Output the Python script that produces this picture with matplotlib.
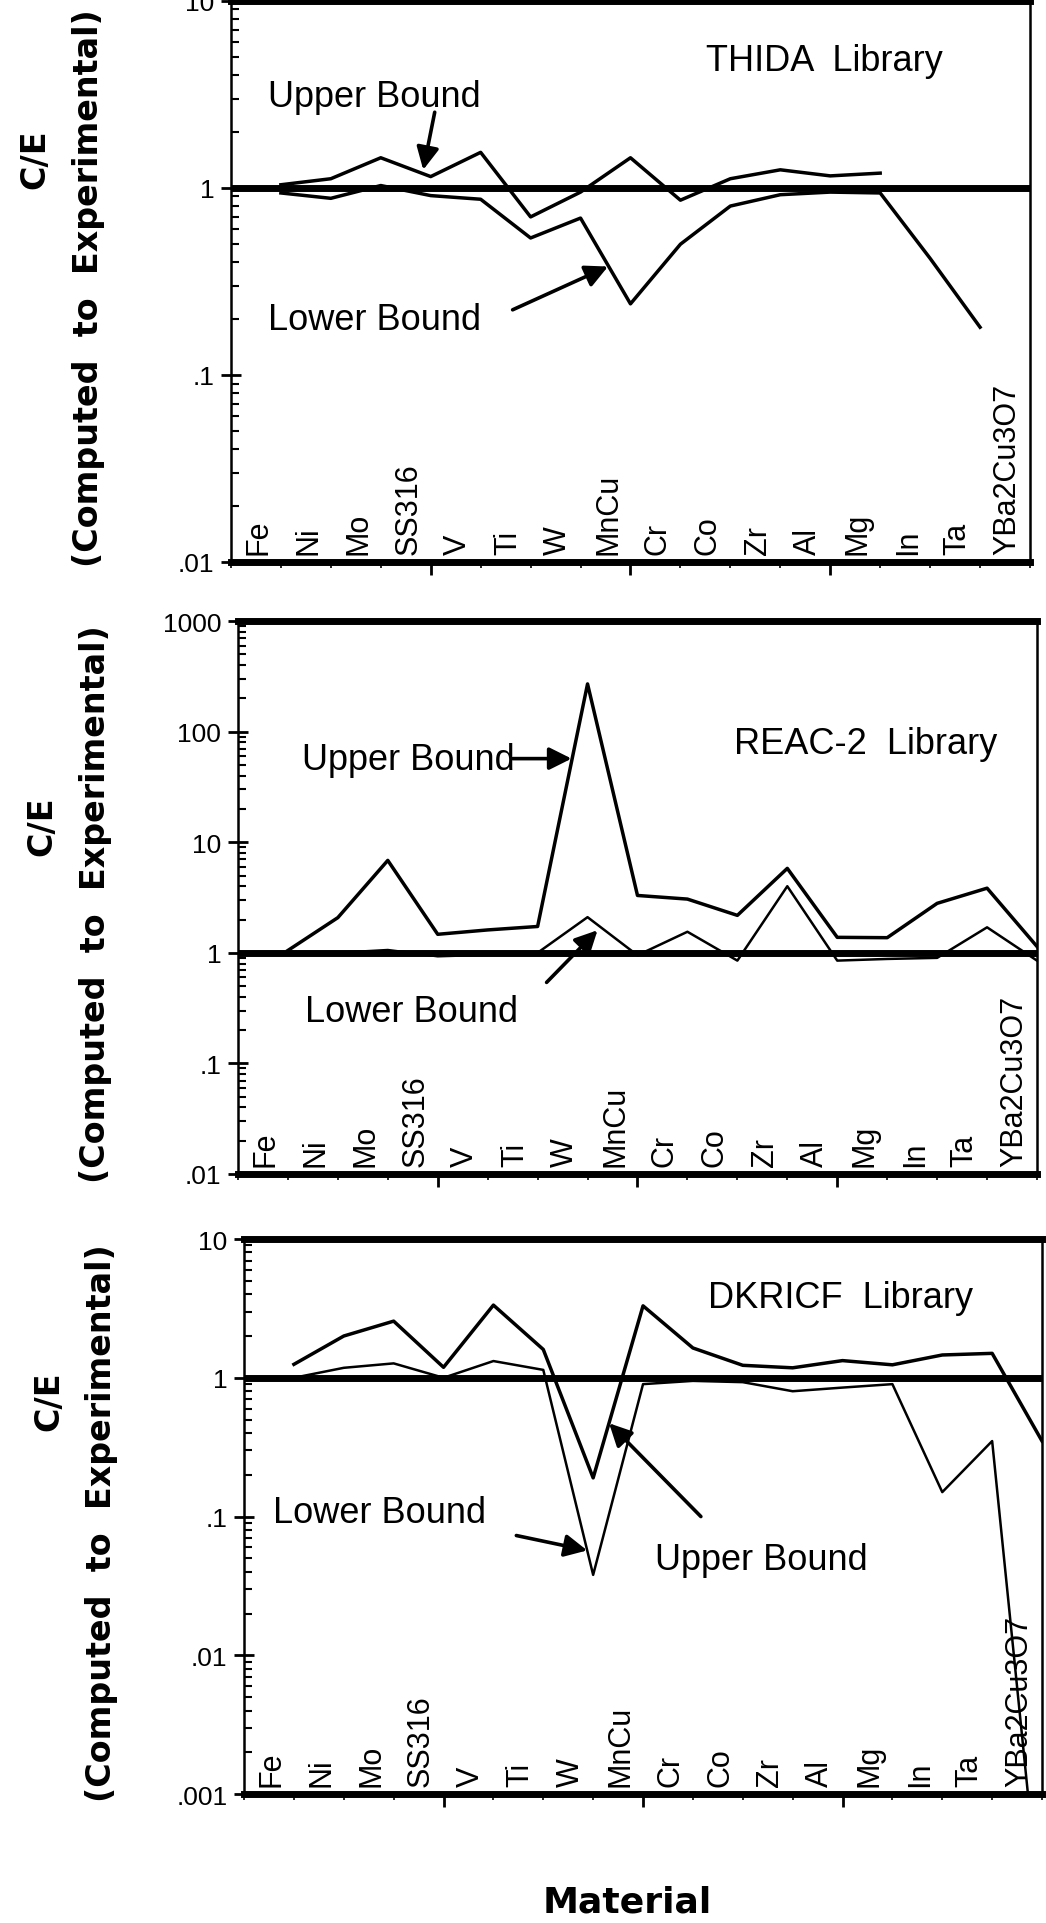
import numpy as np
import matplotlib
matplotlib.use("Agg")
import matplotlib.pyplot as plt
from matplotlib.ticker import FixedLocator, LogLocator, MultipleLocator, NullFormatter

plt.rcParams['font.family'] = ['Liberation Sans', 'DejaVu Sans']

# =============================================================================
# DATA  (C/E ratios)
# =============================================================================

materials = ["Fe", "Ni", "Mo", "SS316", "V", "Ti", "W", "MnCu", "Cr", "Co",
             "Zr", "Al", "Mg", "In", "Ta", "YBa2Cu3O7"]
x_pos = np.arange(1, len(materials) + 1)
nan = np.nan

thida_upper = [1.04, 1.12, 1.45, 1.15, 1.55, 0.70, 0.95, 1.45, 0.86, 1.12,
               1.25, 1.16, 1.20, nan, nan, nan]
thida_lower = [0.94, 0.88, 1.03, 0.91, 0.87, 0.54, 0.69, 0.24, 0.50, 0.80,
               0.92, 0.95, 0.94, 0.42, 0.18, nan]

reac_upper = [1.05, 2.08, 6.85, 1.47, 1.61, 1.73, 270, 3.3, 3.06, 2.18,
              5.8, 1.38, 1.37, 2.8, 3.84, 1.14]
reac_lower = [1.0, 1.0, 1.06, 0.93, 0.96, 1.0, 2.1, 0.95, 1.55, 0.85,
              4.0, 0.85, 0.88, 0.90, 1.7, 0.85]

dkricf_upper = [1.25, 2.0, 2.56, 1.19, 3.34, 1.6, 0.19, 3.3, 1.64, 1.23,
                1.18, 1.33, 1.24, 1.46, 1.5, 0.35]
dkricf_lower = [1.0, 1.18, 1.27, 1.0, 1.32, 1.14, 0.038, 0.9, 0.95, 0.93,
                0.80, 0.85, 0.90, 0.15, 0.35, 1e-4]

thida_ticks = [0.01, 0.1, 1, 10]
thida_ticklabels = [".01", ".1", "1", "10"]
reac_ticks = [0.01, 0.1, 1, 10, 100, 1000]
reac_ticklabels = [".01", ".1", "1", "10", "100", "1000"]
dkricf_ticks = [0.001, 0.01, 0.1, 1, 10]
dkricf_ticklabels = [".001", ".01", ".1", "1", "10"]

# =============================================================================
# FIGURE
# =============================================================================

fig = plt.figure(figsize=(10.46, 19.24), dpi=100)


def draw_panel(rect, upper, lower, ticks, ticklabels, library, lib_xy,
               ce_y, lw_lower):
    ax = fig.add_axes(rect)
    ax.set_yscale('log')
    ax.set_ylim(ticks[0], ticks[-1])
    ax.set_xlim(0, 16)

    ax.axhline(1, color='black', lw=5)
    ax.plot(x_pos, upper, color='black', lw=2.5)
    ax.plot(x_pos, lower, color='black', lw=lw_lower)

    ax.set_yticks(ticks)
    ax.set_yticklabels(ticklabels, fontsize=19)
    ax.yaxis.set_minor_locator(LogLocator(base=10, subs=np.arange(2, 10), numticks=20))
    ax.yaxis.set_minor_formatter(NullFormatter())
    ax.xaxis.set_major_locator(FixedLocator([4, 8, 12]))
    ax.xaxis.set_minor_locator(MultipleLocator(1))
    ax.tick_params(axis='x', labelbottom=False)
    ax.tick_params(axis='y', which='major', direction='inout', length=14, width=2, pad=5)
    ax.tick_params(axis='y', which='minor', direction='in', length=6, width=1.5)
    ax.tick_params(axis='x', which='major', direction='out', length=9, width=2)
    ax.tick_params(axis='x', which='minor', direction='out', length=4, width=1.2)
    for s in ('top', 'bottom'):
        ax.spines[s].set_linewidth(5)
    for s in ('left', 'right'):
        ax.spines[s].set_linewidth(1.8)

    # material names written inside the plot, along the bottom
    for xp, name in zip(x_pos, materials):
        ax.text(xp - 0.45, 0.015, name, rotation=90, ha='center', va='bottom',
                fontsize=22, transform=ax.get_xaxis_transform())

    ax.text(lib_xy[0], lib_xy[1], library, transform=ax.transAxes,
            ha='center', va='center', fontsize=26)

    ax.text(-0.245, ce_y, "C/E", rotation=90, transform=ax.transAxes,
            ha='center', va='center', fontsize=24, fontweight='bold',
            family='DejaVu Sans')
    ax.text(-0.178, 0.49, "(Computed  to  Experimental)", rotation=90,
            transform=ax.transAxes, ha='center', va='center', fontsize=24,
            fontweight='bold', family='DejaVu Sans')
    return ax


def arrow(ax, tip, tail):
    ax.annotate('', xy=tip, xytext=tail,
                arrowprops=dict(arrowstyle='-|>', color='black', lw=2.6,
                                mutation_scale=34, shrinkA=0, shrinkB=0))


# --- THIDA ---
ax1 = draw_panel([0.2208, 0.7074, 0.7639, 0.2916], thida_upper, thida_lower,
                 thida_ticks, thida_ticklabels, "THIDA  Library", (0.743, 0.894),
                 0.72, 2.5)
ax1.text(0.046, 0.829, "Upper Bound", transform=ax1.transAxes, ha='left',
         va='center', fontsize=26)
arrow(ax1, (3.85, 1.25), (4.08, 2.54))
ax1.text(0.046, 0.433, "Lower Bound", transform=ax1.transAxes, ha='left',
         va='center', fontsize=26)
arrow(ax1, (7.55, 0.38), (5.64, 0.223))

# --- REAC-2 ---
ax2 = draw_panel([0.2275, 0.3893, 0.7639, 0.2874], reac_upper, reac_lower,
                 reac_ticks, reac_ticklabels, "REAC-2  Library", (0.785, 0.779),
                 0.63, 1.8)
ax2.text(0.08, 0.75, "Upper Bound", transform=ax2.transAxes, ha='left',
         va='center', fontsize=26)
arrow(ax2, (6.68, 57), (5.5, 57))
ax2.text(0.084, 0.293, "Lower Bound", transform=ax2.transAxes, ha='left',
         va='center', fontsize=26)
arrow(ax2, (7.2, 1.6), (6.18, 0.54))

# --- DKRICF ---
ax3 = draw_panel([0.2333, 0.0670, 0.7629, 0.2885], dkricf_upper, dkricf_lower,
                 dkricf_ticks, dkricf_ticklabels, "DKRICF  Library", (0.747, 0.895),
                 0.71, 1.8)
ax3.text(0.036, 0.508, "Lower Bound", transform=ax3.transAxes, ha='left',
         va='center', fontsize=26)
arrow(ax3, (6.88, 0.057), (5.46, 0.073))
ax3.text(0.515, 0.422, "Upper Bound", transform=ax3.transAxes, ha='left',
         va='center', fontsize=26)
arrow(ax3, (7.32, 0.47), (9.16, 0.10))

fig.text(0.6, 0.0114, "Material", ha='center', va='center', fontsize=26,
         fontweight='bold', family='DejaVu Sans')

fig.savefig("out.png", dpi=100, facecolor='white')
